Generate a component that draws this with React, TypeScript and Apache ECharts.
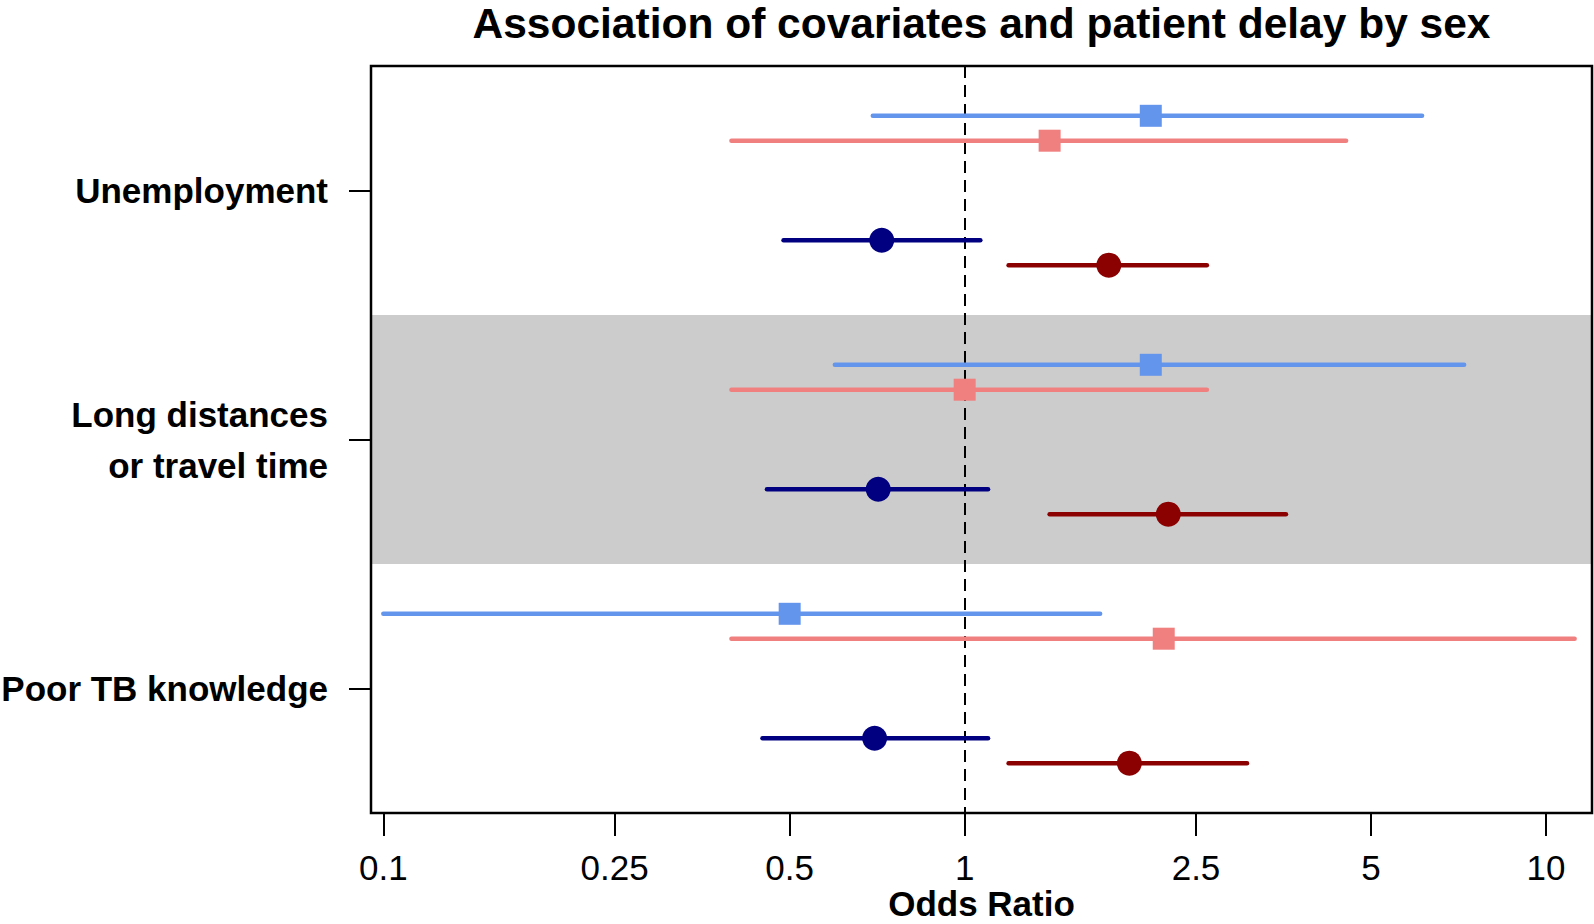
import React, { useEffect, useRef } from "react";
import * as echarts from "echarts";

const titleText = "Association of covariates and patient delay by sex";
const categories = ["Unemployment", "Long distances\nor travel time", "Poor TB knowledge"];
const xTickValues = [0.1, 0.25, 0.5, 1, 2.5, 5, 10];
const xTickLabels = ["0.1", "0.25", "0.5", "1", "2.5", "5", "10"];

// Odds ratios (estimate, lower, upper) per category
const lightBlueEst = [2.09, 2.09, 0.5];
const lightBlueLow = [0.695, 0.598, 0.1];
const lightBlueHigh = [6.12, 7.23, 1.71];

const pinkEst = [1.4, 1.0, 2.2];
const pinkLow = [0.397, 0.397, 0.397];
const pinkHigh = [4.53, 2.61, 11.2];

const navyEst = [0.72, 0.71, 0.7];
const navyLow = [0.488, 0.457, 0.449];
const navyHigh = [1.064, 1.097, 1.097];

const darkRedEst = [1.77, 2.24, 1.92];
const darkRedLow = [1.19, 1.4, 1.19];
const darkRedHigh = [2.61, 3.57, 3.06];

const FONT = "'Liberation Sans', Arial, Helvetica, sans-serif";

const GRID = { left: 371, top: 66, width: 1221, height: 747 };

export default function App() {
  const ref = useRef<HTMLDivElement>(null);

  useEffect(() => {
    if (!ref.current) return;
    const chart = echarts.init(ref.current, null, { renderer: "svg" });

    const lg = (v: number) => Math.log10(v);

    const makeSeries = (
      name: string,
      color: string,
      offset: number,
      est: number[],
      low: number[],
      high: number[],
      shape: "square" | "circle",
      extra: any = {}
    ) => ({
      type: "custom",
      name,
      z: 5,
      encode: { x: [1, 2, 3], y: 0 },
      data: est.map((e, i) => [i + offset, lg(low[i]), lg(e), lg(high[i])]),
      renderItem: (params: any, api: any) => {
        const y = api.value(0);
        const p1 = api.coord([api.value(1), y]);
        const pc = api.coord([api.value(2), y]);
        const p2 = api.coord([api.value(3), y]);
        const marker =
          shape === "square"
            ? {
                type: "rect",
                shape: { x: pc[0] - 11, y: pc[1] - 11, width: 22, height: 22 },
                style: { fill: color },
              }
            : {
                type: "circle",
                shape: { cx: pc[0], cy: pc[1], r: 12.5 },
                style: { fill: color },
              };
        return {
          type: "group",
          children: [
            {
              type: "line",
              shape: { x1: p1[0], y1: p1[1], x2: p2[0], y2: p2[1] },
              style: { stroke: color, lineWidth: 4.5, lineCap: "round" },
            },
            marker,
          ],
        };
      },
      ...extra,
    });

    const option: any = {
      animation: false,
      backgroundColor: "#ffffff",
      title: {
        text: titleText,
        left: GRID.left + GRID.width / 2 - 5,
        textAlign: "center",
        top: -3,
        textStyle: { fontFamily: FONT, fontSize: 42.5, fontWeight: "bold", color: "#000" },
      },
      grid: { ...GRID, containLabel: false, outerBoundsMode: "none" },
      xAxis: {
        type: "value",
        min: -1.0212,
        max: 1.0791,
        name: "Odds Ratio",
        nameLocation: "middle",
        nameGap: 72,
        nameMoveOverlap: false,
        nameTextStyle: {
          fontFamily: FONT,
          fontSize: 35,
          lineHeight: 36,
          fontWeight: "bold",
          color: "#000",
        },
        splitLine: { show: false },
        axisLine: { show: false, onZero: false },
        axisTick: {
          show: true,
          length: 23,
          customValues: xTickValues.map((v) => Math.log10(v)),
          lineStyle: { color: "#000", width: 2 },
        },
        axisLabel: {
          show: true,
          margin: 37,
          customValues: xTickValues.map((v) => Math.log10(v)),
          formatter: (v: number) => {
            const idx = xTickValues.findIndex((t) => Math.abs(Math.log10(t) - v) < 1e-6);
            return idx >= 0 ? xTickLabels[idx] : "";
          },
          fontFamily: FONT,
          fontSize: 35,
          color: "#000",
          hideOverlap: false,
        },
      },
      yAxis: {
        type: "value",
        inverse: true,
        min: -0.5,
        max: 2.5,
        splitLine: { show: false },
        axisLine: { show: false, onZero: false },
        axisTick: {
          show: true,
          length: 22,
          customValues: [0, 1, 2],
          lineStyle: { color: "#000", width: 2 },
        },
        axisLabel: {
          show: true,
          margin: 43,
          customValues: [0, 1, 2],
          formatter: (v: number) => categories[Math.round(v)] ?? "",
          fontFamily: FONT,
          fontSize: 35,
          fontWeight: "bold",
          color: "#000",
          lineHeight: 51,
          align: "right",
        },
      },
      graphic: [
        {
          type: "rect",
          z: 100,
          shape: { x: GRID.left, y: GRID.top, width: GRID.width, height: GRID.height },
          style: { fill: "none", stroke: "#000", lineWidth: 2.5 },
          silent: true,
        },
      ],
      series: [
        makeSeries("Light blue", "#6495ED", -0.3, lightBlueEst, lightBlueLow, lightBlueHigh, "square", {
          markArea: {
            silent: true,
            itemStyle: { color: "#CCCCCC" },
            data: [[{ yAxis: 0.5 }, { yAxis: 1.5 }]],
          },
          markLine: {
            silent: true,
            symbol: "none",
            label: { show: false },
            lineStyle: { color: "#000", width: 2, type: [12, 7] },
            data: [{ xAxis: 0 }],
          },
        }),
        makeSeries("Pink", "#F08080", -0.2, pinkEst, pinkLow, pinkHigh, "square"),
        makeSeries("Navy", "#000080", 0.2, navyEst, navyLow, navyHigh, "circle"),
        makeSeries("Dark red", "#8B0000", 0.3, darkRedEst, darkRedLow, darkRedHigh, "circle"),
      ],
    };

    chart.setOption(option);
    return () => chart.dispose();
  }, []);

  return (
    <div
      ref={ref}
      style={{ position: "absolute", left: 0, top: 0, width: 1594, height: 924, background: "#fff" }}
    />
  );
}
